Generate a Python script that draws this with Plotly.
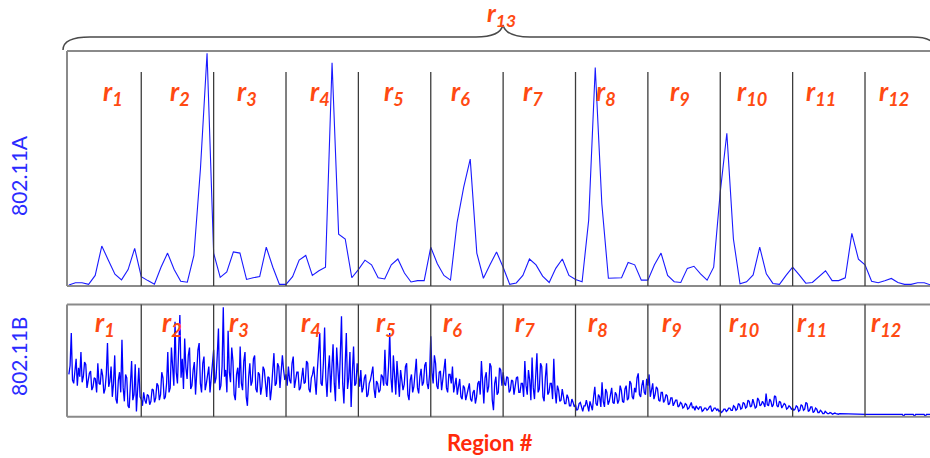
import plotly.graph_objects as go

W, H = 930, 458

# ---- data -------------------------------------------------------------
region_names = [f"r{k}" for k in range(1, 13)]
span_name = "r13"
series_a_name = "802.11A"
series_b_name = "802.11B"
x_title = "Region #"

# 802.11A: 11 samples per region
series_a = [
    0.4, 1.4, 1.4, 0.7, 4.5, 17, 11, 5, 2.6, 7, 16,
    4, 2.3, 0.8, 8, 14, 7, 2, 1.6, 13, 50, 99,
    14, 3.7, 6, 14.5, 14, 2.8, 3.5, 4, 16.5, 8, 0.7,
    0.7, 4, 11, 13, 4.5, 6.5, 8, 95, 22, 20, 3.5,
    7, 11, 9, 3.5, 3, 9, 11.5, 5.5, 1.7, 2.3, 2.3,
    16.5, 9.5, 4.5, 2.5, 27, 42, 54, 14, 3.3, 9, 14.5,
    8, 0.7, 1.3, 4.5, 11.5, 9, 4.2, 1.5, 7.5, 11.5, 4.5,
    2.8, 1.8, 28, 93, 35, 3.3, 3.5, 3.5, 10, 9, 2.5,
    2.5, 9, 14, 4.5, 1.8, 1.5, 7.5, 8.4, 5.2, 2.5, 8,
    40, 65, 20, 0.9, 1.8, 4.7, 16.5, 5.2, 1.1, 0.7, 4.5,
    8, 4.7, 1.2, 1.5, 4, 6.5, 2.3, 2.3, 3.5, 22.4, 11.4,
    9, 2, 1.4, 2.2, 3.2, 1.5, 0.7, 0.7, 1.4, 1.4, 0.4,
]
A_PER_REGION = 11

# 802.11B: 60 samples per region
b_r1 = [38, 46, 75, 33, 30, 41, 52, 28, 44, 36,
        58, 31, 36, 49, 47, 26, 33, 39, 41, 24,
        27, 35, 34, 22, 48, 30, 29, 43, 37, 21,
        25, 38, 66, 27, 32, 45, 18, 30, 55, 16,
        12, 33, 40, 22, 69, 26, 14, 38, 35, 10,
        8, 29, 50, 15, 20, 47, 5, 25, 44, 18]
b_r2 = [16, 10, 22, 15, 12, 20, 19, 11, 14, 25,
        24, 13, 17, 30, 28, 15, 20, 40, 35, 16,
        18, 30, 58, 22, 26, 62, 46, 28, 85, 40,
        30, 72, 91, 35, 52, 25, 70, 44, 34, 55,
        62, 25, 28, 42, 49, 20, 38, 60, 66, 30,
        22, 48, 54, 24, 30, 40, 45, 22, 36, 50]
b_r3 = [60, 30, 35, 55, 79, 24, 28, 45, 98, 36,
        42, 22, 77, 40, 31, 62, 50, 20, 15, 38,
        44, 26, 63, 30, 24, 50, 58, 18, 10, 35,
        48, 28, 32, 52, 55, 25, 22, 40, 38, 20,
        27, 45, 42, 30, 18, 36, 35, 15, 25, 42,
        57, 28, 30, 48, 45, 26, 38, 55, 42, 33]
b_r4 = [38, 28, 45, 33, 30, 48, 54, 26, 33, 40,
        40, 24, 26, 36, 44, 30, 31, 50, 48, 25,
        22, 35, 38, 45, 35, 20, 42, 58, 75, 30,
        28, 48, 80, 35, 18, 42, 55, 22, 40, 65,
        30, 14, 62, 38, 25, 55, 90, 30, 12, 45,
        75, 25, 35, 58, 9, 40, 63, 28, 30, 48]
b_r5 = [34, 27, 42, 22, 26, 35, 38, 18, 20, 30,
        33, 40, 45, 25, 17, 32, 30, 22, 24, 38,
        36, 28, 60, 30, 28, 45, 75, 35, 22, 55,
        40, 20, 50, 30, 18, 42, 35, 24, 29, 45,
        48, 20, 15, 33, 38, 22, 27, 40, 52, 26,
        21, 36, 43, 28, 31, 46, 49, 30, 25, 38]
b_r6 = [72, 40, 30, 55, 48, 28, 25, 40, 41, 24,
        35, 46, 52, 26, 22, 38, 38, 30, 45, 22,
        28, 35, 20, 30, 34, 18, 16, 28, 26, 15,
        19, 25, 30, 16, 14, 22, 24, 12, 18, 30,
        32, 20, 50, 28, 12, 35, 40, 22, 27, 48,
        45, 15, 6, 30, 36, 20, 22, 44, 42, 28]
b_r7 = [40, 30, 28, 36, 35, 22, 24, 33, 32, 20,
        27, 35, 36, 22, 22, 30, 30, 18, 50, 28,
        20, 42, 33, 15, 53, 26, 16, 40, 57, 22,
        25, 48, 45, 18, 14, 35, 48, 20, 22, 30,
        30, 16, 52, 24, 12, 28, 24, 14, 15, 25,
        20, 12, 12, 20, 17, 10, 10, 16, 13, 9]
b_r8 = [11, 6, 7, 12, 13, 8, 5, 10, 10, 15,
        8, 5, 14, 9, 6, 18, 27, 12, 10, 20,
        18, 9, 31, 14, 9, 25, 22, 11, 14, 20,
        26, 13, 12, 22, 20, 12, 15, 28, 24, 14,
        13, 25, 28, 15, 17, 32, 30, 18, 16, 26,
        22, 35, 39, 20, 18, 28, 33, 22, 20, 34]
b_r9 = [28, 38, 18, 24, 30, 16, 20, 27, 25, 15,
        14, 22, 22, 13, 15, 20, 19, 11, 12, 17,
        17, 10, 13, 15, 15, 9, 10, 13, 12, 8,
        9, 12, 11, 7, 8, 11, 13, 8, 9, 6,
        10, 8, 7, 9, 9, 5, 6, 8, 8, 6,
        7, 9, 10, 5, 6, 8, 8, 6, 7, 5]
b_r10 = [6, 4, 5, 7, 7, 5, 6, 8, 8, 6,
         6, 10, 9, 6, 7, 12, 11, 7, 8, 13,
         12, 8, 9, 15, 14, 9, 10, 16, 13, 8,
         9, 17, 15, 10, 11, 14, 12, 9, 21, 11,
         10, 16, 14, 9, 11, 19, 18, 10, 9, 14,
         13, 8, 10, 12, 11, 7, 8, 10, 9, 7]
b_r11 = [8, 6, 7, 10, 9, 5, 6, 11, 10, 6,
         7, 13, 12, 5, 6, 9, 9, 4, 5, 8,
         7, 4, 4, 6, 5, 3, 3, 5, 4, 3,
         3, 4, 3.5, 2.5, 3, 3.5, 3, 2.5, 2.5, 3,
         3, 2.5, 3, 3, 2.5, 3, 3, 2.5, 2.5, 3,
         3, 2.5, 2.5, 3, 2.5, 2.5, 3, 2.5, 2.5, 2.5]
b_r12 = [2.5, 2.4, 2.3, 2.3, 2.3, 2.2, 2.3, 2.3, 2.3, 2.3,
         2.2, 2.3, 2.3, 2.3, 2.3, 2.3, 2.3, 2.3, 2.3, 2.3,
         2.3, 2.3, 2.3, 2.3, 2.3, 2.3, 2.3, 2.3, 2.3, 2.3,
         2.3, 2.3, 0.6, 2.3, 2.3, 2.3, 2.3, 2.3, 2.3, 2.3,
         2.3, 0.6, 2.3, 2.3, 2.3, 2.3, 2.3, 2.3, 2.3, 2.3,
         0.6, 2.3, 2.3, 2.3, 2.3, 2.3, 2.3, 2.3, 2.3, 2.3]
B_PER_REGION = 60

series_b = (b_r1 + b_r2 + b_r3 + b_r4 + b_r5 + b_r6 +
            b_r7 + b_r8 + b_r9 + b_r10 + b_r11 + b_r12)

# ---- styling / layout ---------------------------------------------------
LABEL_RED = "#ff4a12"
TITLE_RED = "#ff2a0a"
BLUE_TXT = "#2a2aff"
LINE_BLUE = "#1a1aff"
FRAME = "#8a8a8a"
DIVIDER = "#3c3c3c"
FONT = "Lato"

# region label centres (in region units) for each panel
label_x_a = [0.609, 1.535, 2.457, 3.463, 4.489, 5.411,
             6.410, 7.421, 8.437, 9.432, 10.385, 11.394]
label_x_b = [0.499, 1.425, 2.350, 3.345, 4.381, 5.307,
             6.302, 7.311, 8.334, 9.328, 10.267, 11.290]


def px(x):
    return x / W


def py(y):
    return 1 - y / H


# panel geometry (pixels)
LEFT = 67
TOP_A, BOT_A, DIV_A = 51, 286, 72
TOP_B, BOT_B = 304.5, 416.7

x_range = [-0.026, 11.898]

fig = go.Figure()

xa = [i / A_PER_REGION for i in range(len(series_a))]
xb = [i / B_PER_REGION for i in range(len(series_b))]

fig.add_trace(go.Scatter(x=xa, y=series_a, mode="lines",
                         line=dict(color=LINE_BLUE, width=1.1),
                         xaxis="x", yaxis="y", hoverinfo="skip"))
fig.add_trace(go.Scatter(x=xb, y=series_b, mode="lines",
                         line=dict(color="#0000ff", width=1.3),
                         xaxis="x2", yaxis="y2", hoverinfo="skip"))

shapes = []
line_frame = dict(color=FRAME, width=2)
# frames (left, top, bottom; right side runs off the canvas)
for top, bot in ((TOP_A, BOT_A), (TOP_B, BOT_B)):
    shapes.append(dict(type="line", xref="paper", yref="paper",
                       x0=px(LEFT), x1=px(LEFT), y0=py(top), y1=py(bot), line=line_frame))
    shapes.append(dict(type="line", xref="paper", yref="paper",
                       x0=px(LEFT), x1=px(W + 10), y0=py(top), y1=py(top), line=line_frame))
    shapes.append(dict(type="line", xref="paper", yref="paper",
                       x0=px(LEFT), x1=px(W + 10), y0=py(bot), y1=py(bot), line=line_frame))

# region dividers
for b in range(1, len(region_names)):
    shapes.append(dict(type="line", xref="x", yref="paper", x0=b, x1=b,
                       y0=py(DIV_A), y1=py(BOT_A), line=dict(color=DIVIDER, width=1.3)))
    shapes.append(dict(type="line", xref="x2", yref="paper", x0=b, x1=b,
                       y0=py(TOP_B), y1=py(BOT_B), line=dict(color=DIVIDER, width=1.3)))

# curly brace spanning all regions
brace_pts = [
    ("M", [(63, 50)]),
    ("Q", [(63, 37), (90, 37)]),
    ("L", [(476, 37)]),
    ("Q", [(500, 37), (503, 25)]),
    ("Q", [(506, 37), (530, 37)]),
    ("L", [(912, 37)]),
    ("Q", [(936, 37), (936, 50)]),
]
path = " ".join(cmd + " " + " ".join(f"{px(x):.5f},{py(y):.5f}" for x, y in pts)
                for cmd, pts in brace_pts)
shapes.append(dict(type="path", xref="paper", yref="paper", path=path,
                   line=dict(color="#4a4a4a", width=1.5)))

annotations = []


def rlabel(name):
    return f"<b><i>{name[0]}<sub>{name[1:]}</sub></i></b>"


for k, name in enumerate(region_names):
    annotations.append(dict(xref="x", yref="paper", x=label_x_a[k], y=py(93),
                            text=rlabel(name), showarrow=False, xanchor="center",
                            yanchor="middle",
                            font=dict(family=FONT, size=26, color=LABEL_RED)))
    annotations.append(dict(xref="x2", yref="paper", x=label_x_b[k], y=py(323),
                            text=rlabel(name), showarrow=False, xanchor="center",
                            yanchor="middle",
                            font=dict(family=FONT, size=26, color=LABEL_RED)))

annotations.append(dict(xref="paper", yref="paper", x=px(501), y=py(14),
                        text=rlabel(span_name), showarrow=False,
                        xanchor="center", yanchor="middle", borderpad=0,
                        font=dict(family=FONT, size=25, color=LABEL_RED)))

annotations.append(dict(xref="paper", yref="paper", x=px(18), y=py(176),
                        text=series_a_name, textangle=-90, showarrow=False,
                        xanchor="center", yanchor="middle",
                        font=dict(family=FONT, size=21, color=BLUE_TXT)))
annotations.append(dict(xref="paper", yref="paper", x=px(18), y=py(357),
                        text=series_b_name, textangle=-90, showarrow=False,
                        xanchor="center", yanchor="middle",
                        font=dict(family=FONT, size=21, color=BLUE_TXT)))
annotations.append(dict(xref="paper", yref="paper", x=px(490), y=py(442),
                        text=f"<b>{x_title}</b>", showarrow=False,
                        xanchor="center", yanchor="middle",
                        font=dict(family=FONT, size=22, color=TITLE_RED)))

axis_common = dict(visible=False, showgrid=False, zeroline=False, fixedrange=True)

fig.update_layout(
    width=W, height=H,
    margin=dict(l=0, r=0, t=0, b=0),
    paper_bgcolor="white", plot_bgcolor="rgba(0,0,0,0)",
    showlegend=False,
    xaxis=dict(domain=[px(LEFT), 1], range=x_range, anchor="y", **axis_common),
    yaxis=dict(domain=[py(BOT_A), py(TOP_A)], range=[0, 100], anchor="x", **axis_common),
    xaxis2=dict(domain=[px(LEFT), 1], range=x_range, anchor="y2", matches="x", **axis_common),
    yaxis2=dict(domain=[py(417), py(305)], range=[0, 100], anchor="x2", **axis_common),
    shapes=shapes,
    annotations=annotations,
)

fig.write_html("out.html")
